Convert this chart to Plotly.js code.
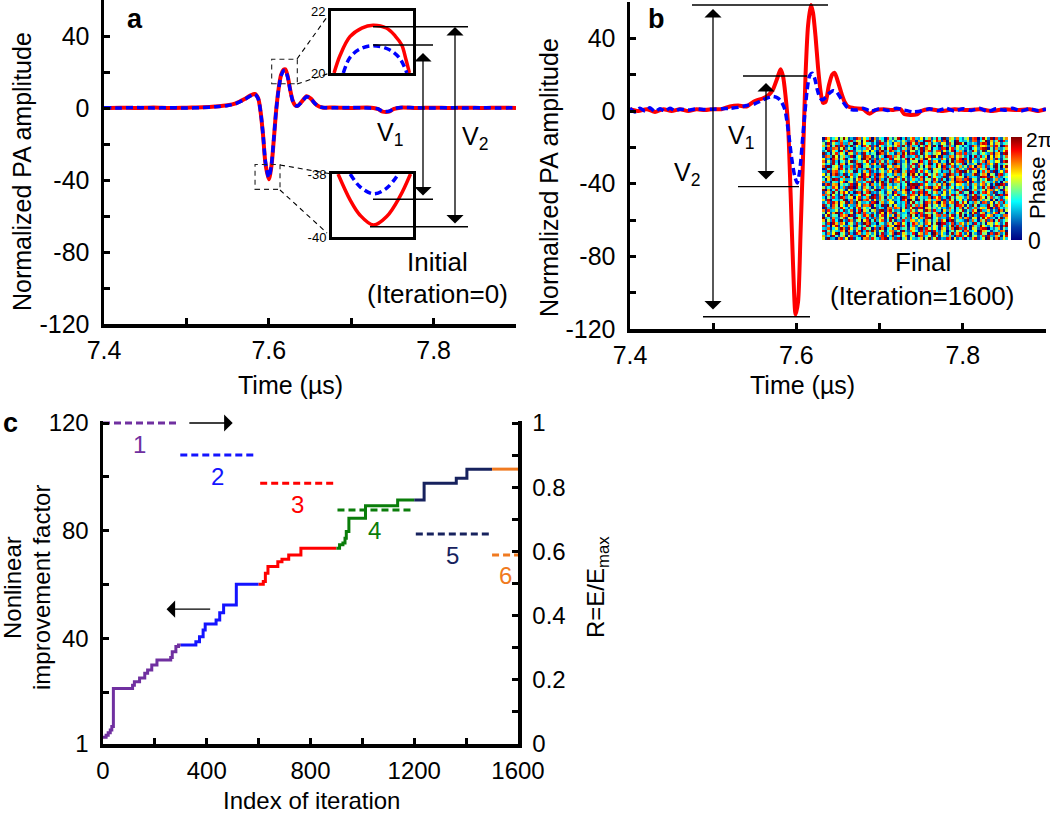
<!DOCTYPE html>
<html><head><meta charset="utf-8">
<script src="https://cdn.plot.ly/plotly-3.0.1.min.js"></script>
<style>html,body{margin:0;padding:0;background:#fff}#chart{width:1050px;height:814px}</style>
</head><body><div id="chart"></div><script>
// ---------- Panel a: initial PA signals (Time in µs, normalized amplitude) ----------
const aTime = [7.400,7.420,7.440,7.460,7.480,7.500,7.520,7.535,7.550,7.560,7.570,7.578,7.583,7.587,7.590,7.593,7.596,7.600,7.603,7.606,7.609,7.612,7.615,7.618,7.620,7.623,7.626,7.629,7.632,7.635,7.640,7.646,7.651,7.656,7.661,7.666,7.680,7.700,7.720,7.732,7.738,7.746,7.752,7.760,7.780,7.800,7.820,7.840,7.860,7.880,7.900];
const aRed  = [0,0.2,0,0.3,0,0.2,0.4,0.8,1.5,2.6,4.8,7.0,7.8,5.5,-2,-15,-31,-39.6,-33,-18,-1,11,18.5,21.3,21.5,17.5,10,4,1.5,1.2,3.5,6.5,5.2,2.5,0.8,0.2,0.3,0,0.3,-0.5,-2,-2,-0.5,0.2,0,0.2,0,0.2,0,0.2,0];
const aBlue = [0.2,0,0.3,0,0.2,0,0.3,0.7,1.4,2.5,4.6,6.8,7.6,5.3,-2,-14.6,-30.3,-38.6,-32.2,-17.5,-1,10.6,18,20.7,20.9,17,9.8,4,1.6,1.2,3.4,6.3,5.1,2.5,0.8,0.3,0.1,0.3,0,-0.4,-1.8,-1.8,-0.4,0.3,0.1,0,0.2,0,0.2,0,0.2];
// zoomed peak (inset, 20..22) and trough (inset, -38..-40)
const aTopRedT  = [7.6126,7.6138,7.6157,7.6180,7.6202,7.6228,7.6245,7.6258,7.6266,7.6273];
const aTopRed   = [20.0,20.58,21.17,21.45,21.54,21.45,21.2,20.9,20.45,20.0];
const aTopBlueT = [7.6144,7.6157,7.6176,7.6202,7.6235,7.6255,7.6268];
const aTopBlue  = [20.0,20.5,20.77,20.88,20.74,20.45,20.0];
const aBotRedT  = [7.5932,7.5956,7.5975,7.6002,7.6028,7.6054,7.6075];
const aBotRed   = [-38.0,-38.83,-39.3,-39.62,-39.35,-38.72,-38.0];
const aBotBlueT = [7.5956,7.5975,7.6002,7.6028,7.6051];
const aBotBlue  = [-38.0,-38.4,-38.63,-38.45,-38.0];

// ---------- Panel b: final PA signals ----------
const bRedT = [7.400,7.410,7.420,7.430,7.440,7.450,7.460,7.470,7.480,7.490,7.500,7.510,7.520,7.530,7.540,7.548,7.553,7.560,7.567,7.572,7.577,7.581,7.584,7.587,7.590,7.593,7.596,7.599,7.602,7.605,7.608,7.611,7.614,7.6175,7.620,7.623,7.626,7.629,7.632,7.635,7.639,7.643,7.646,7.650,7.654,7.658,7.662,7.670,7.680,7.688,7.695,7.705,7.715,7.725,7.730,7.745,7.750,7.760,7.775,7.790,7.805,7.820,7.835,7.850,7.865,7.880,7.890,7.900];
const bRed  = [1,0,1,-0.5,1,0,1,0,1,0.5,1,1,2.5,3,2.5,5,6,7,9,12,18,23,19,8,-8,-45,-85,-112,-105,-67,-25,20,47,58.4,54,41,24,11,4.5,5,14,20,21,16,10,5,2.5,1.5,1,-1.5,0.5,1,0.5,1,-1.8,-1.8,0,1,0,1,0.5,1,0,1,0.5,1,0,1];
const bBlueT = [7.400,7.406,7.412,7.418,7.424,7.430,7.436,7.442,7.448,7.454,7.460,7.470,7.480,7.490,7.500,7.510,7.520,7.530,7.540,7.550,7.557,7.564,7.572,7.578,7.582,7.586,7.590,7.594,7.598,7.601,7.604,7.607,7.610,7.613,7.616,7.619,7.622,7.625,7.628,7.631,7.635,7.640,7.644,7.648,7.652,7.656,7.660,7.664,7.672,7.680,7.690,7.700,7.710,7.720,7.730,7.740,7.750,7.760,7.770,7.780,7.790,7.800,7.810,7.820,7.830,7.840,7.850,7.860,7.870,7.880,7.890,7.900];
const bBlue  = [1.5,-0.5,1.5,0,1.8,-0.3,1.2,0,1.5,0.2,1,0.5,1.2,0.8,1,1.2,1.5,2,3,4,5.5,7,8,7,5,1,-10,-25,-36,-39.6,-33,-18,-2,12,19.5,20.8,18,12,7.5,6,7.5,10,11.2,10.5,8,5,2.5,1,0.5,1.5,0,1.2,0.3,1.5,0.5,-0.5,0,1.2,0.2,1.5,0,1.3,0.3,1.5,-0.2,1.2,0.4,1.5,0,1.2,0.3,1];
// final phase mask (base-36 phase levels, 0..z -> 0..2π), 40 rows x 72 pixels
const phaseRows = [
"k3z9a1qv7 m0x4hd2ps 8ujc6ty1e r5w0gn3lb 9fo2iz7kx 4a8vq1m6d t2e7ow5ck 0zh3ry8mb",
"p7c2xe5ho 1jt9b4wzn 6gk0ru3ma y8d5lq2fi 0vs7ck4xe 3nh9pa1tw 9mu1gk6ds 4xa8pf2lv",
"e4r8mz0gk 5ya2vo7cq i9l3fw6bj t1x5nh8du 2kp6se0zr 7mb3gy9ov c6n0ia3wh j1t5xq7ez",
"w2h6jc9tn 0qf4ku1ax 8zo5mi3ep s7g1yb6rl d4v9tx2wc 6nj0ah5kf 3ru9dm0yo ke4bg8sp1",
"b9s3dl7yq 4xm8pe2ug k1t6zr0ci 5ow9fh3jn a2y7vk8me 1ql4gs0zt 8vh2nj6tw x0c7fo3ia",
"u6c0nw4ka 9rh2yj7fx 3el8bq5vo m0z4tg1ds 7ip3cx9lh 2ve6ky8wb q5d1sg9zm e8k4ur2ty",
"g5t1xo8rm 2dk7wa4zs y9b0he6qj 4nu3lc1fv p8g5sm2iy 0xw7dt3ar l7ob3wc5h 1nk9mf6ex",
"o1j8vd3zc 6wq5gk0lt 1fy9ms4ex h3a7ub8pn 9kc2ri5go 5tl0vz6hd a4y8re2qi w6s0gv7dj",
"z8e4qa6jt 3mg1xn9bw c5r7ok2iy 0vh3fs8ud l6p9wy1ek 8ab4tm7cq 5pt3kn1fx mu9c2hz6o",
"4lx7gf1sn r0w3ci9vo 7yd5kt2ma n2q8eh6zj 1bu4xp0gr t9s6lw3fy g0e6ya4wv 8lq3bd7rs",
"h0m5pz2ve 8ck1ry7ta e6i4wn0ls 5xg9bd3oq v2t7jh8ku 3ye0fa6mz i9k2ox5jp 3c7mu1hg0",
"q3u9bk5dx 7fs2ev0nh 2jo6xz4rw g8a1mc9ti 6lk3yq5vb c0n8pd2ej y4f8tl0wa bn5e6zq2k",
"1ya6rh8wl d5e3nu9kc i0z7fb2qs 9tp4gx6my 3vw1ok8ha j7c5si0dr 2hv7cs9mo ex1r4ud8g",
"x6g2sj0mc 4oa8tl5rq v1k9dy3zh 2nb7eu6wf s8p0xi4gl 7mq3ch1vt o3j6zi1ab 9yk5wp7fn",
"8ft4wo1ni y2r6zk9ae 5ux0gp7bm l3d8cs2jy e9h1vq5ow 0kt6mr3xf wl0c8qh4t r6m2gs9xd",
"n5w1ec7gy 0bs9lx3ru j4m6qh8tk 7ad2vo0zi 1yg5fn9cp r3x8wk2el 5ex3uz7oa ki1n0bv6h",
"c2i7ub4xs 9hn0mt6dq 3zv5rj1ga k8e2yw7ol 4pf9bs0tm u6c3xh5jn f8p4yw2rl 0jt9ga5cm",
"t9q0la3fz 6gy8dn2vk e1w4ph9sb 2mx7ck5ur i0o3tz8ea 5jl6gv1qd b2s6kx8ne dq7h1zu3w",
"5rk8yh2ow m3c1xs0gt z7b6je4ni 0ua9lq3dv 8yt2wf6kr a4m5nc9ix 6gi0vc3ft wn8y4ea1p",
"y0p3dv9ka 2lt7ib5ms 8hw1zc6ge q5n4ox0uj f9r2ek7ty 1cs8ma3wb u1z5hq9dk 3or7mb2xl",
"j6e9tn1cr 5zx0wg4qh a3k7bu8lo 9mf2ds5yv 0ti6rx1pn w7g4ck3ea n7c2el6ax gs0w8ti4j",
"3sx5oq0ib g8v2ym6tf 1rd9kw3nc 6ah4ej0xz y2u7lb9gs k5p1tf6mo d9q4fo8mr 7k2bz1yu5",
"r8b2gc5mv 1ok6ta9eu w0j3nz7hy 4qs8fx2ld 7ic5ve1ra 2bz9kn4wt x3m1ua6gs ie9o5c0hp",
"f1n7zw3ep 9ai4ls8xc k6u0rb2gv 3tm9yh5do c8q2ji6wk 6xe1ap0sr 7tw2nh4jb lz6fq8a0d",
"6ko4ea9td z2m8gy1vs 0cw5qn7xh i3r9lb4fu 5gt1dz8me b7y3ok2pn h1r8dc5zw u4xn9s7ek",
"m4h0rx6by 3es9ck2wl v8t1uo5gd 7pa6ni0qz l1f4wj9kt 9dr2ys7cx e5a9py3iq o0jg2tw8f",
"a7w3qt8fl 8ng1zd4ob x5c6ek9rm 1sy2hp3vu 4ju8ma0il e3b9xg6ty 2zk6hn0ct fr5y1bm7u",
"0yc6kn2ui 4fr8wb7az t9m3ol1es q6x0gd5hv 2ek7cz4nj h5s1ri8wb j8u3ws6mg p1d9xe4ao",
"s3z1hm7wd 7bt5qx0gk c4e9ay2nl 8ro3fj6ui 5wh0kt9ez m1v6cs4ap 9i5tl1qrc v7h3zf0ny",
"k9d5xf0qn 1ig7uy3cm 6sl2ow8tb y0a4gk5hv 3rn8ez1dx o7p2wm6jc w0g8bk2ua 5sm6yd9ej",
"r2k7xb0ei 6mz3qg9lw d1u8th4oc 7ys5an2fj k0v9ew6pm 3gc1iz8ru x5o4ld7hs 1qf9mk3ty",
"m6a0vo5jt 2eh8ck1zq y7r3bs9dw 4li6gu0nx f9p2zm7ec 8tk5hy3ov 0wd1ra6lj s3n7xb4gi",
"4tq9zl2ho b8w1em6ys o3g5kc0xu 9rj2vf7ad u6i4nt1zm 2yb8sp5kq h7e0dx9wc n1m3ol6fr",
"z5c2ju8mg 1ok7ta3xe 7fh0wr5nb e3q9yl1sv 5dz6kc8io m0x4bg2rt 9ua7hf5ek c8s1pn3wy",
"8hy4nd1xc s2v6gi9ol 0mb3rz7fw q9e5ta2kj 6cx1ou4hs t4l8jw0dp a2f7yn6gz 3ki5ex9mv",
"e0u6sq3ky 7jd2fb8cr l4n9xh1mt 1wa5go6pz i8y3rk0ec 5vt0mu7jb g6c2dl9sx y1h4qa8fo",
"o9p1gx5wr 3bz8lc0uk v5s2md7hi 8kt6ye3qa c1j9wn4zf 0xg7rb2ld 4ea3uo6nm p7q5vi1yt",
"i3w5kb9ta 9rg0zo2me f6d4xu8lc 2nq7hs1vj w8y1ep5gb 6mk3ti0zx k0c9fa4rw u2l6oj7dh",
"6fm2ty7qc d4x9ni0lw 1zh5ug3ob j7e8ka6sr 3pc0xw9mv q5t2lg1yd 9bi6rs4ek z3o8hv2ua",
"1vo8el3jz k5a4wr7mc s0q7hd2ug 6ix1cy9nt b9m3gp5fw e2z6ok8rd 7hn4su0bx l8y1ta6kq"
];

// ---------- Panel c: nonlinear improvement factor per stage (step curves) ----------
const cPurpleX = [0,12,20,28,34,40,114,121,141,161,172,188,208,261,267,281,291,300];
const cPurpleY = [3.5,4.2,5.2,6.2,7.5,21.6,22.8,24.1,25.5,27.2,28.4,30.3,32.1,33.1,35.2,37.1,37.7,37.7];
const cBlueX = [300,358,372,386,394,436,450,465,514,600];
const cBlueY = [37.7,38.9,40.8,43.3,45.5,47,49.7,52.5,60.2,60.2];
const cRedX = [600,618,626,636,674,690,716,763,900];
const cRedY = [60.2,61.2,64.3,66.8,68.6,69.5,71.1,73.6,73.6];
const cGreenX = [900,912,925,933,938,948,1012,1136,1200];
const cGreenY = [73.6,74.9,75.5,77.3,79.8,84.7,89.3,91.5,91.5];
const cNavyX = [1200,1238,1362,1403,1500];
const cNavyY = [91.5,97.7,99.5,102.9,102.9];
const cOrangeX = [1500,1600];
const cOrangeY = [102.9,102.9];
// R = E/Emax for each stage (right axis)
const stageLabels = ['1','2','3','4','5','6'];
const stageStart = [0,298,606,904,1206,1500];
const stageEnd   = [285,583,891,1192,1492,1600];
const stageR     = [1.0,0.90,0.812,0.729,0.654,0.589];

// ---------- tick labels ----------
const ampTickVals = [-120,-100,-80,-60,-40,-20,0,20,40];
const ampTickText = ['-120','','-80','','-40','','0','','40'];
const timeTickVals = [7.4,7.5,7.6,7.7,7.8];
const timeTickText = ['7.4','','7.6','','7.8'];
const iterTickVals = [0,200,400,600,800,1000,1200,1400,1600];
const iterTickText = ['0','','400','','800','','1200','','1600'];
const nifTickVals = [1,20,40,60,80,100,120];
const nifTickText = ['1','','40','','80','','120'];
const rTickVals = [0,0.1,0.2,0.3,0.4,0.5,0.6,0.7,0.8,0.9,1];
const rTickText = ['0','','0.2','','0.4','','0.6','','0.8','','1'];

// ---------- styling / layout ----------
const W = 1050, H = 814;
const FONT = '"Liberation Sans", Arial, Helvetica, sans-serif';
const PX = p => p / W, PY = p => 1 - p / H;
const stageColors = ['#7030A0','#1414FF','#FF0000','#0A7D0A','#17225E','#F07A20'];
// panel c plot spans 423..744 px; 2 px headroom so the R=1 dashed line is not clipped
const cTop = 421, cBot = 744, cSpan = 321;

function axis(extra, size) {
  return Object.assign({showline:true, linecolor:'black', linewidth:3.5, ticks:'inside', ticklen:6,
    tickwidth:3, tickcolor:'black', showgrid:false, zeroline:false, ticklabelstandoff:6,
    tickfont:{family:FONT, size:size || 25, color:'black'}, fixedrange:true}, extra);
}
function inset(extra) {
  return Object.assign({showline:true, mirror:true, linecolor:'black', linewidth:3, ticks:'',
    showgrid:false, zeroline:false, fixedrange:true, tickfont:{family:FONT, size:13, color:'black'}}, extra);
}
function txt(text, x, y, opts) {
  return Object.assign({text:text, x:PX(x), y:PY(y), xref:'paper', yref:'paper', showarrow:false,
    font:{family:FONT, size:25, color:'black'}, xanchor:'center', yanchor:'middle'}, opts || {});
}
function darrow(x, y1, y2) {
  return {x:PX(x), y:PY(y1), xref:'paper', yref:'paper', ax:0, ay:(y2 - y1), axref:'pixel', ayref:'pixel',
    text:'', showarrow:true, arrowhead:1, startarrowhead:1, arrowside:'end+start', arrowsize:2.2,
    startarrowsize:2.2, arrowwidth:1.3, arrowcolor:'black', standoff:0, startstandoff:0};
}
function hline(x0, x1, y, w) {
  return {type:'line', xref:'paper', yref:'paper', x0:PX(x0), x1:PX(x1), y0:PY(y), y1:PY(y),
    line:{color:'black', width:w || 1.4}, layer:'above'};
}
function seg(x0, y0, x1, y1) {
  return {type:'line', xref:'paper', yref:'paper', x0:PX(x0), y0:PY(y0), x1:PX(x1), y1:PY(y1),
    line:{color:'black', width:1.1, dash:'5px,4px'}, layer:'above'};
}

const phaseZ = phaseRows.map(r => r.replace(/ /g,'').split('').map(c => parseInt(c, 36) / 35 * 2 * Math.PI));

const traces = [];
// panel a
traces.push({x:aTime, y:aRed, xaxis:'x', yaxis:'y', mode:'lines', line:{color:'#FF0000', width:4, shape:'spline', smoothing:0.8}});
traces.push({x:aTime, y:aBlue, xaxis:'x', yaxis:'y', mode:'lines', line:{color:'#0000FF', width:3.5, dash:'7px,4px', shape:'spline', smoothing:0.8}});
traces.push({x:aTopRedT, y:aTopRed, xaxis:'x5', yaxis:'y5', mode:'lines', line:{color:'#FF0000', width:3.5, shape:'spline'}});
traces.push({x:aTopBlueT, y:aTopBlue, xaxis:'x5', yaxis:'y5', mode:'lines', line:{color:'#0000FF', width:3.5, dash:'7px,4px', shape:'spline'}});
traces.push({x:aBotRedT, y:aBotRed, xaxis:'x6', yaxis:'y6', mode:'lines', line:{color:'#FF0000', width:3.5, shape:'spline'}});
traces.push({x:aBotBlueT, y:aBotBlue, xaxis:'x6', yaxis:'y6', mode:'lines', line:{color:'#0000FF', width:3.5, dash:'7px,4px', shape:'spline'}});
// panel b
traces.push({x:bRedT, y:bRed, xaxis:'x2', yaxis:'y2', mode:'lines', line:{color:'#FF0000', width:4, shape:'spline', smoothing:0.7}});
traces.push({x:bBlueT, y:bBlue, xaxis:'x2', yaxis:'y2', mode:'lines', line:{color:'#0000FF', width:3.5, dash:'7px,4px', shape:'spline', smoothing:0.7}});
traces.push({type:'heatmap', z:phaseZ, xaxis:'x7', yaxis:'y7', colorscale:'Jet', zmin:0, zmax:2*Math.PI,
  zsmooth:false, hoverinfo:'skip', showscale:true,
  colorbar:{x:PX(1011), xanchor:'left', y:PY(188.5), yanchor:'middle', len:103/H, lenmode:'fraction',
    thickness:11, thicknessmode:'pixels', outlinewidth:0, showticklabels:false, ticks:'', xpad:0, ypad:0}});
// panel c
const cX = [cPurpleX,cBlueX,cRedX,cGreenX,cNavyX,cOrangeX];
const cY = [cPurpleY,cBlueY,cRedY,cGreenY,cNavyY,cOrangeY];
for (let i = 0; i < 6; i++) {
  traces.push({x:cX[i], y:cY[i], xaxis:'x3', yaxis:'y3', mode:'lines', line:{color:stageColors[i], width:3, shape:'hv'}});
}
for (let i = 0; i < 6; i++) {
  traces.push({x:[stageStart[i], stageEnd[i]], y:[stageR[i], stageR[i]], xaxis:'x3', yaxis:'y4', mode:'lines',
    line:{color:stageColors[i], width:3, dash:'7px,4px'}});
}

const annotations = [
  txt('<b>a</b>', 135, 19, {font:{family:FONT, size:27, color:'black'}}),
  txt('<b>b</b>', 656, 19, {font:{family:FONT, size:27, color:'black'}}),
  txt('<b>c</b>', 10, 423, {font:{family:FONT, size:27, color:'black'}}),
  txt('Normalized PA amplitude', 22, 172, {textangle:-90}),
  txt('Time (µs)', 290, 385),
  txt('Normalized PA amplitude', 549, 178, {textangle:-90}),
  txt('Time (µs)', 802, 385),
  txt('Initial', 437, 262, {font:{family:FONT, size:26, color:'black'}}),
  txt('(Iteration=0)', 437, 294, {font:{family:FONT, size:26, color:'black'}}),
  txt('Final', 923, 262, {font:{family:FONT, size:26, color:'black'}}),
  txt('(Iteration=1600)', 922, 296, {font:{family:FONT, size:26, color:'black'}}),
  txt('V<sub>1</sub>', 390, 134),
  txt('V<sub>2</sub>', 475, 138),
  txt('V<sub>1</sub>', 741, 137),
  txt('V<sub>2</sub>', 687, 174),
  txt('2π', 1024, 140, {xanchor:'left', font:{family:FONT, size:21, color:'black'}}),
  txt('0', 1026, 241, {xanchor:'left', font:{family:FONT, size:23, color:'black'}}),
  txt('Phase', 1037, 188, {textangle:-90, font:{family:FONT, size:22, color:'black'}}),
  txt('Nonlinear', 12, 588, {textangle:-90, font:{family:FONT, size:24, color:'black'}}),
  txt('improvement factor', 41, 588, {textangle:-90, font:{family:FONT, size:24, color:'black'}}),
  txt('Index of iteration', 311, 800, {font:{family:FONT, size:24, color:'black'}}),
  txt('R=E/E<sub>max</sub>', 597, 587, {textangle:-90, font:{family:FONT, size:24, color:'black'}}),
  darrow(423, 53, 197),
  darrow(455, 27, 225),
  darrow(713, 9, 311),
  darrow(766, 83, 181),
  {x:500, y:1.0, xref:'x3', yref:'y4', ax:327, ay:1.0, axref:'x3', ayref:'y4', text:'', showarrow:true,
    arrowhead:1, arrowsize:2.2, arrowwidth:1.3, arrowcolor:'black', standoff:0},
  {x:245, y:51, xref:'x3', yref:'y3', ax:419, ay:51, axref:'x3', ayref:'y3', text:'', showarrow:true,
    arrowhead:1, arrowsize:2.2, arrowwidth:1.3, arrowcolor:'black', standoff:0}
];
for (let i = 0; i < 6; i++) {
  annotations.push({text:stageLabels[i], x:(stageStart[i] + stageEnd[i]) / 2, y:stageR[i], xref:'x3', yref:'y4',
    yshift:-21, showarrow:false, font:{family:FONT, size:24, color:stageColors[i]}, xanchor:'center', yanchor:'middle'});
}

const shapes = [
  // dashed zoom boxes in panel a (data coords)
  {type:'rect', xref:'x', yref:'y', x0:7.6035, x1:7.6346, y0:13.5, y1:27.1, line:{color:'#222', width:1.1, dash:'5px,4px'}},
  {type:'rect', xref:'x', yref:'y', x0:7.5833, x1:7.6136, y0:-45.2, y1:-31.4, line:{color:'#222', width:1.1, dash:'5px,4px'}},
  seg(297, 59, 327, 17), seg(297, 84, 330, 73),
  seg(280, 165, 332, 174), seg(280, 190, 327, 233),
  // V1 / V2 reference lines, panel a
  hline(373, 468, 26.7), hline(373, 433, 45), hline(373, 433, 199.3), hline(370, 468, 226.7),
  // V1 / V2 reference lines, panel b
  hline(692, 828, 5), hline(703, 810, 316.7), hline(743, 807, 76), hline(738, 799, 186.6)
];

const layout = {
  width:W, height:H, margin:{l:0, r:0, t:0, b:0}, showlegend:false, hovermode:false,
  paper_bgcolor:'#ffffff', plot_bgcolor:'rgba(0,0,0,0)', font:{family:FONT, size:24, color:'black'},
  xaxis:axis({domain:[PX(104), PX(516)], range:[7.4,7.9], anchor:'y', tickvals:timeTickVals, ticktext:timeTickText, ticklabelstandoff:1}),
  yaxis:axis({domain:[PY(324), 1], range:[-120,60], anchor:'x', tickvals:ampTickVals, ticktext:ampTickText}),
  xaxis2:axis({domain:[PX(630), PX(1046)], range:[7.4,7.9], anchor:'y2', tickvals:timeTickVals, ticktext:timeTickText, ticklabelstandoff:1}),
  yaxis2:axis({domain:[PY(329), PY(2)], range:[-120,60], anchor:'x2', tickvals:ampTickVals, ticktext:ampTickText}),
  xaxis3:axis({domain:[PX(103), PX(518)], range:[0,1600], anchor:'y3', tickvals:iterTickVals, ticktext:iterTickText, ticklabelstandoff:3}, 24),
  yaxis3:axis({domain:[PY(cBot), PY(cTop)], range:[1, 120 + (423 - cTop) * 119 / cSpan], anchor:'x3', tickvals:nifTickVals, ticktext:nifTickText}, 24),
  yaxis4:axis({overlaying:'y3', side:'right', range:[0, 1 + (423 - cTop) / cSpan], anchor:'x3', tickvals:rTickVals, ticktext:rTickText}, 24),
  xaxis5:inset({domain:[PX(331), PX(413)], range:[7.612,7.628], anchor:'y5', showticklabels:false}),
  yaxis5:inset({domain:[PY(73), PY(11)], range:[20,22], anchor:'x5', tickvals:[20,22], ticktext:['20','22']}),
  xaxis6:inset({domain:[PX(332), PX(413)], range:[7.592,7.608], anchor:'y6', showticklabels:false}),
  yaxis6:inset({domain:[PY(237), PY(174)], range:[-40,-38], anchor:'x6', tickvals:[-40,-38], ticktext:['-40','-38']}),
  xaxis7:{domain:[PX(822), PX(1008)], anchor:'y7', visible:false, fixedrange:true},
  yaxis7:{domain:[PY(240), PY(137)], anchor:'x7', visible:false, fixedrange:true},
  annotations:annotations, shapes:shapes
};

Plotly.newPlot('chart', traces, layout, {staticPlot:true, displayModeBar:false});
</script></body></html>
